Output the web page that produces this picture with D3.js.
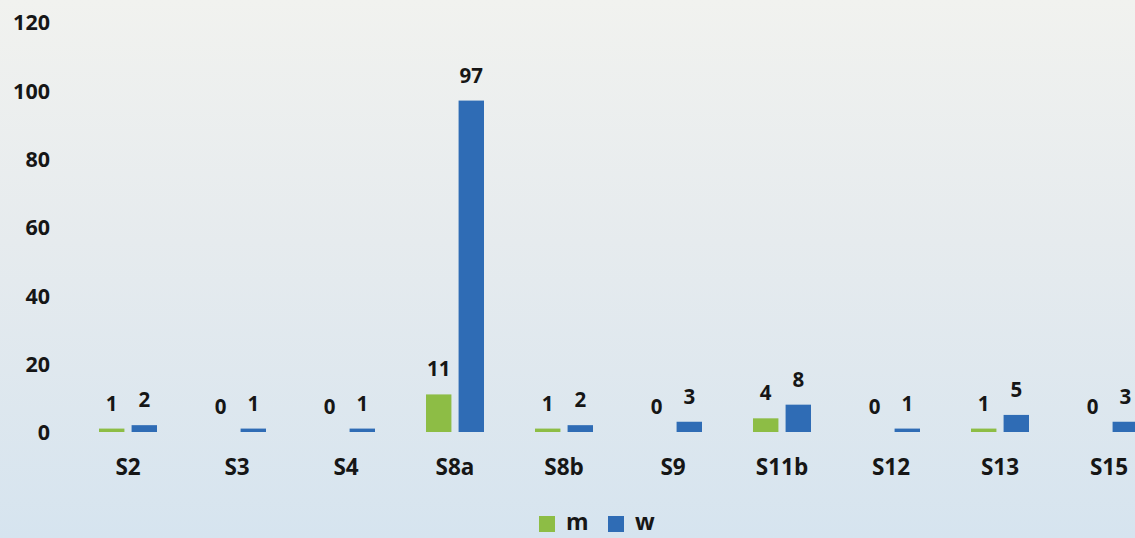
<!DOCTYPE html>
<html><head><meta charset="utf-8">
<script src="https://cdn.jsdelivr.net/npm/d3@7"></script>
<style>
html,body{margin:0;padding:0;}
body{width:1135px;height:538px;overflow:hidden;}
text{font-family:"Open Sans","Lato",sans-serif;font-weight:700;fill:#161616;}
</style></head>
<body><svg id="c" width="1135" height="538"></svg>
<script>
const categories = ["S2","S3","S4","S8a","S8b","S9","S11b","S12","S13","S15"];
const mValues = [1,0,0,11,1,0,4,0,1,0];
const wValues = [2,1,1,97,2,3,8,1,5,3];
const yTicks = [0,20,40,60,80,100,120];
const seriesNames = ["m","w"];
const seriesColors = ["#8dbd45","#2f6cb5"];

const svg = d3.select("#c");
const W = 1135, H = 538;
const FONT = "'Open Sans', Lato, sans-serif";
const defs = svg.append("defs");
const g = defs.append("linearGradient").attr("id","bg").attr("x1",0).attr("y1",0).attr("x2",0).attr("y2",1);
g.append("stop").attr("offset","0%").attr("stop-color","#f1f2ef");
g.append("stop").attr("offset","45%").attr("stop-color","#e6ebee");
g.append("stop").attr("offset","100%").attr("stop-color","#d6e4ef");
svg.append("rect").attr("width",W).attr("height",H).attr("fill","url(#bg)");

const x = d3.scaleBand().domain(categories).range([73.5, 1163.5]).paddingInner(0).paddingOuter(0);
const x1 = d3.scaleBand().domain(seriesNames).range([x.bandwidth()/2-29, x.bandwidth()/2+29]).paddingInner(0.22);
const y = d3.scaleLinear().domain([0,120]).range([432, 22]);

// y axis labels
const yAxis = d3.axisLeft(y).tickValues(yTicks).tickSize(0).tickPadding(0);
const ya = svg.append("g").attr("transform","translate(50,0)").call(yAxis);
ya.select(".domain").remove();
ya.selectAll("text").attr("font-size","21.5px").attr("dy","0.36em").style("font-family",FONT).style("font-weight","700").attr("fill","#161616");

// x axis labels
const xAxis = d3.axisBottom(x).tickSize(0).tickPadding(0);
const xa = svg.append("g").attr("transform","translate(0,459)").call(xAxis);
xa.select(".domain").remove();
xa.selectAll("text").attr("font-size","22.5px").attr("dy","0.71em").style("font-family",FONT).style("font-weight","700").attr("fill","#161616");

const data = categories.map((c,i)=>({cat:c, vals:[{s:"m",v:mValues[i],c:seriesColors[0]},{s:"w",v:wValues[i],c:seriesColors[1]}]}));
const grp = svg.selectAll(".grp").data(data).join("g").attr("class","grp")
  .attr("transform",d=>`translate(${x(d.cat)},0)`);
grp.selectAll("rect").data(d=>d.vals).join("rect")
  .attr("x",d=>x1(d.s)).attr("width",x1.bandwidth())
  .attr("y",d=>y(d.v)).attr("height",d=>y(0)-y(d.v))
  .attr("fill",d=>d.c);
grp.selectAll("text.lbl").data(d=>d.vals).join("text").attr("class","lbl")
  .attr("x",d=>x1(d.s)+x1.bandwidth()/2).attr("y",d=>y(d.v)-18)
  .attr("text-anchor","middle").attr("font-size","20.5px").text(d=>d.v);

// legend
const leg = svg.append("g");
const legX = [539, 608];
seriesNames.forEach((s,i)=>{
  leg.append("rect").attr("x",legX[i]).attr("y",516).attr("width",16).attr("height",16).attr("fill",seriesColors[i]);
  leg.append("text").attr("x",legX[i]+27).attr("y",530).attr("font-size","23px").text(s);
});
</script></body></html>
